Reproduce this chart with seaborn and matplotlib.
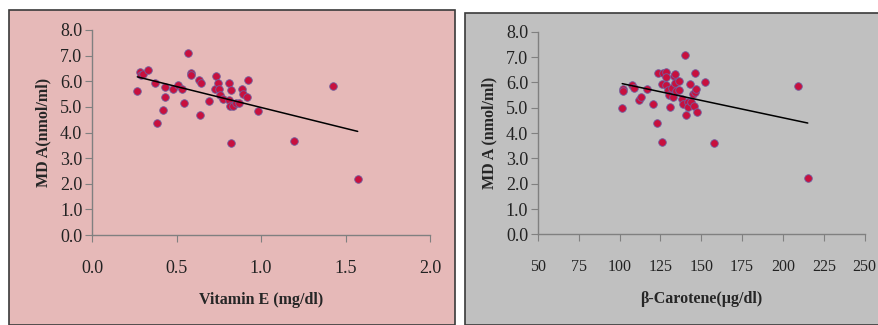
import numpy as np
import pandas as pd
import matplotlib
matplotlib.use('Agg')
import matplotlib.pyplot as plt
import seaborn as sns
from matplotlib.patches import Rectangle
from matplotlib.ticker import FormatStrFormatter

# valeurs
vitE = [0.268, 0.284, 0.288, 0.300, 0.333, 0.373, 0.383, 0.418, 0.432, 0.434,
        0.481, 0.507, 0.531, 0.544, 0.570, 0.584, 0.586, 0.635, 0.643, 0.639,
        0.690, 0.734, 0.728, 0.744, 0.752, 0.756, 0.773, 0.812, 0.820, 0.810,
        0.816, 0.820, 0.836, 0.852, 0.868, 0.890, 0.892, 0.915, 0.925, 0.980,
        1.197, 1.428, 1.572]
mdaE = [5.62, 6.35, 6.24, 6.30, 6.45, 5.92, 4.36, 4.88, 5.76, 5.39,
        5.70, 5.86, 5.69, 5.14, 7.10, 6.34, 6.25, 6.04, 5.95, 4.67,
        5.23, 6.22, 5.70, 5.93, 5.69, 5.47, 5.31, 5.92, 5.66, 5.27,
        5.04, 3.58, 5.04, 5.14, 5.17, 5.69, 5.50, 5.40, 6.05, 4.82,
        3.65, 5.83, 2.17]

betaC = [102.0, 102.0, 101.6, 107.6, 109.0, 111.6, 113.4, 116.6, 120.2, 123.0,
         123.6, 126.0, 126.2, 126.4, 128.2, 128.2, 128.6, 129.4, 130.0, 130.6,
         132.0, 132.6, 133.4, 133.8, 134.2, 134.6, 136.6, 136.6, 138.0, 138.6,
         140.2, 140.6, 141.6, 142.0, 143.4, 144.0, 145.0, 145.6, 146.2, 146.2,
         147.0, 147.4, 152.0, 158.0, 209.0, 215.2]
mdaC = [5.73, 5.67, 4.98, 5.90, 5.78, 5.30, 5.42, 5.73, 5.15, 4.39,
        6.39, 5.94, 3.65, 6.39, 6.43, 6.23, 5.90, 5.70, 5.51, 5.05,
        5.77, 5.42, 6.26, 6.33, 5.96, 5.66, 6.06, 5.70, 5.34, 5.14,
        7.10, 4.70, 5.23, 5.04, 5.92, 5.23, 5.53, 5.06, 6.39, 5.64,
        5.73, 4.85, 6.00, 3.60, 5.87, 2.21]

dfE = pd.DataFrame({'x': vitE, 'y': mdaE})
dfC = pd.DataFrame({'x': betaC, 'y': mdaC})

sns.set_style('white')
plt.rcParams['font.family'] = ['Liberation Serif', 'DejaVu Serif']

fig = plt.figure(figsize=(8.79, 3.25), dpi=100)

# fonds des deux panneaux
fig.patches.append(Rectangle((0.0102, 0.0), 0.5074, 0.969, transform=fig.transFigure,
                             facecolor='#E6B9B8', edgecolor='#3a3a3a', lw=1.2, zorder=-10))
fig.patches.append(Rectangle((0.529, 0.0), 0.475, 0.96, transform=fig.transFigure,
                             facecolor='#C0C0C0', edgecolor='#3a3a3a', lw=1.2, zorder=-10))

axE = fig.add_axes([0.1047, 0.2769, 0.3845, 0.6308])
axC = fig.add_axes([0.612, 0.279, 0.3716, 0.623])

config = [
    (axE, dfE, (0, 2), np.arange(0, 2.01, 0.5), '%.1f', 'Vitamin E (mg/dl)', 'MD A(nmol/ml)', 13),
    (axC, dfC, (50, 250), np.arange(50, 251, 25), '%d', 'β-Carotene(µg/dl)', 'MD A (nmol/ml)', 11.5),
]

for ax, df, xlim, xticks, fmt, xlabel, ylabel, xts in config:
    ax.set_facecolor('none')
    sns.regplot(data=df, x='x', y='y', ax=ax, ci=None,
                scatter_kws={'s': 30, 'color': '#C8103E', 'edgecolor': '#7060A0',
                             'linewidths': 0.6, 'alpha': 1},
                line_kws={'color': 'black', 'lw': 1.1})
    ax.set_xlim(*xlim)
    ax.set_ylim(0, 8)
    ax.set_xticks(xticks)
    ax.set_yticks(np.arange(0, 8.1, 1))
    ax.xaxis.set_major_formatter(FormatStrFormatter(fmt))
    ax.yaxis.set_major_formatter(FormatStrFormatter('%.1f'))
    for s in ['top', 'right']:
        ax.spines[s].set_visible(False)
    for s in ['left', 'bottom']:
        ax.spines[s].set_color('#808080')
        ax.spines[s].set_linewidth(1)
    ax.tick_params(axis='both', direction='out', length=5, color='#808080',
                   labelsize=13, labelcolor='#222222')
    ax.tick_params(axis='x', pad=13, labelsize=xts)
    ax.tick_params(axis='y', pad=2)
    ax.tick_params(axis='x', bottom=True)
    ax.tick_params(axis='y', left=True)
    ax.set_xlabel(xlabel, fontsize=11.5, fontweight='bold', labelpad=11)
    ax.set_ylabel(ylabel, fontsize=11.5, fontweight='bold', labelpad=6)

fig.savefig('out.png', dpi=100)
